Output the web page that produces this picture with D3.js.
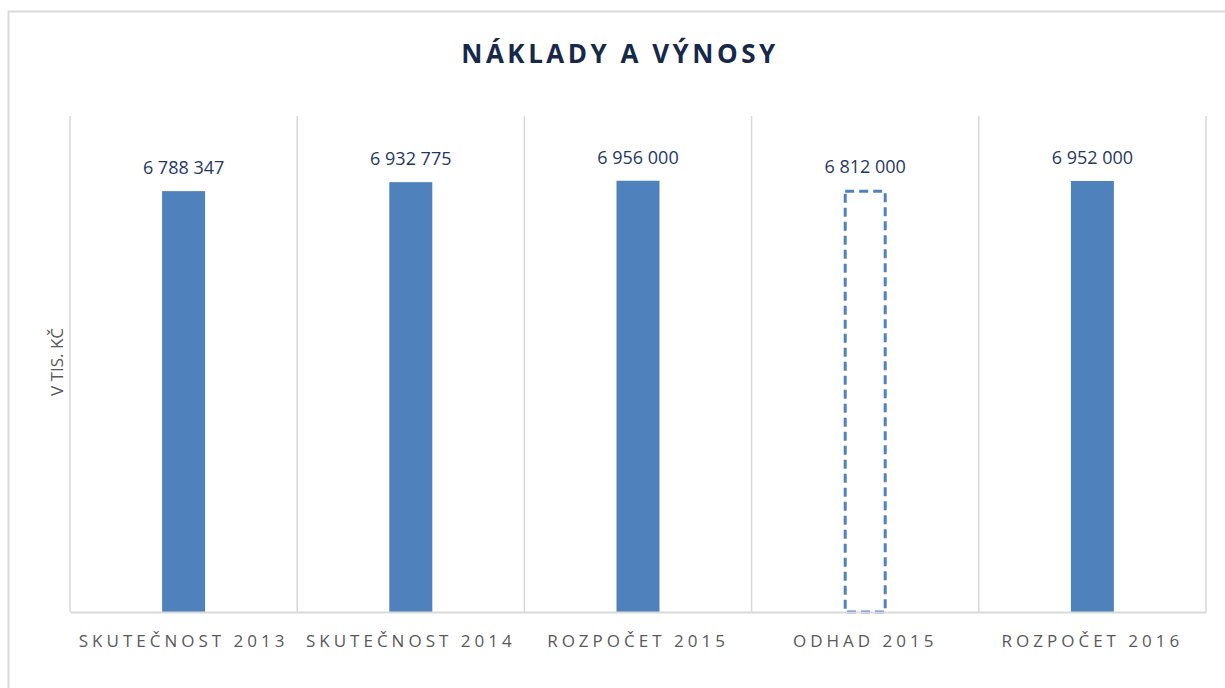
<!DOCTYPE html>
<html><head><meta charset="utf-8">
<script src="https://cdn.jsdelivr.net/npm/d3@7"></script>
<style>body{margin:0;background:#fff}svg{display:block}</style>
</head><body><svg id="c" width="1225" height="688"></svg>
<script>
const categories = ["SKUTEČNOST 2013","SKUTEČNOST 2014","ROZPOČET 2015","ODHAD 2015","ROZPOČET 2016"];
const values = [6788347, 6932775, 6956000, 6812000, 6952000];
const valueLabels = ["6 788 347","6 932 775","6 956 000","6 812 000","6 952 000"];
const estimated = [false,false,false,true,false];
const title = "NÁKLADY A VÝNOSY";
const yTitle = "V TIS. KČ";

const svg = d3.select("#c");
const font = "'Open Sans', sans-serif";
svg.append("rect").attr("x",8.5).attr("y",11.5).attr("width",1240).attr("height",700)
  .attr("fill","#fff").attr("stroke","#d9d9d9").attr("stroke-width",2);

const L=70,R=1206,T=116,B=612;
const x = d3.scaleBand().domain(categories).range([L,R]).paddingInner(0).paddingOuter(0);
const y = d3.scaleLinear().domain([0,8000000]).range([B,T]);

// vertical category gridlines
const bounds = categories.map(c=>x(c)).concat([R]);
svg.append("g").selectAll("line").data(bounds).join("line")
  .attr("x1",d=>d).attr("x2",d=>d).attr("y1",T).attr("y2",B)
  .attr("stroke","#d9d9d9").attr("stroke-width",1.5);

const bw = 43;
const g = svg.append("g");
categories.forEach((c,i)=>{
  const cx = x(c)+x.bandwidth()/2;
  if(!estimated[i]){
    g.append("rect").attr("x",cx-bw/2).attr("width",bw).attr("y",y(values[i])).attr("height",B-y(values[i]))
      .attr("fill","#4f81bd");
  } else {
    g.append("rect").attr("x",cx-bw/2+1.5).attr("width",bw-3).attr("y",y(values[i])+1.5).attr("height",B-y(values[i])-1.5)
      .attr("fill","#fff").attr("stroke","#4f81bd").attr("stroke-width",3).attr("stroke-dasharray","9,5");
  }
  g.append("text").attr("x",cx).attr("y",y(values[i])-17).attr("text-anchor","middle")
    .attr("font-family",font).attr("font-size",18).attr("fill","#1f3864").text(valueLabels[i]);
  g.append("text").attr("x",cx).attr("y",647).attr("text-anchor","middle")
    .attr("font-family",font).attr("font-size",17).attr("letter-spacing","4px").attr("fill","#595959").text(c);
});

// axis baseline
const xAxis = d3.axisBottom(x).tickSize(0).tickFormat("");
svg.append("g").attr("transform",`translate(0,${B})`).call(xAxis)
  .call(s=>s.select(".domain").attr("stroke","#d9d9d9").attr("stroke-width",2));

svg.append("text").attr("x",620).attr("y",63).attr("text-anchor","middle")
  .attr("font-family",font).attr("font-size",26).attr("font-weight","bold").attr("letter-spacing","3.5px")
  .attr("fill","#17294a").text(title);

svg.append("text").attr("transform","translate(63,362) rotate(-90)").attr("text-anchor","middle")
  .attr("font-family",font).attr("font-size",17).attr("fill","#595959").text(yTitle);
</script></body></html>
